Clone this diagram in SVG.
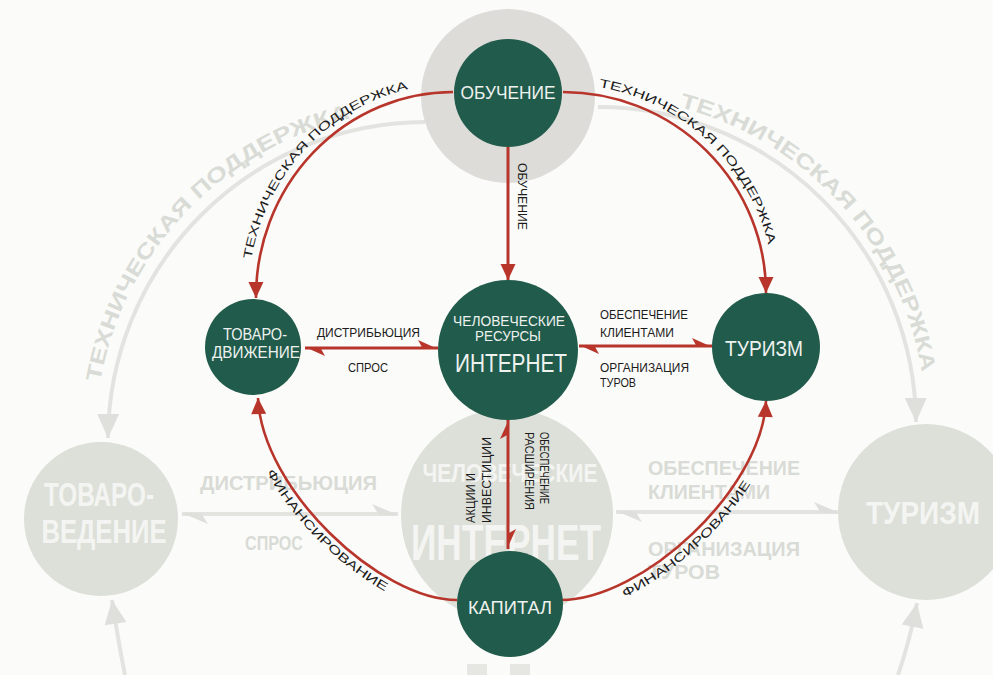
<svg xmlns="http://www.w3.org/2000/svg" width="993" height="675" viewBox="0 0 993 675">
<style>
.node{fill:#215b4b}
.nt{fill:#eef2ef;font-family:"Liberation Sans Narrow","Liberation Sans",Arial,sans-serif;text-anchor:middle}
.lbl{fill:#1c1c1c;font-family:"Liberation Sans Narrow","Liberation Sans",Arial,sans-serif;font-size:12px}
.arc{fill:none;stroke:#b8352b;stroke-width:2.6}
.red{fill:none;stroke:#b8352b;stroke-width:3}
.g-line{fill:none;stroke:#e3e4e0;stroke-width:4}
.g-circ{fill:#dde0d9}
.g-txt{fill:#d9dbd6;font-family:"Liberation Sans Narrow","Liberation Sans",Arial,sans-serif;font-weight:bold}
.g-wt{fill:#f4f5f2;font-family:"Liberation Sans Narrow","Liberation Sans",Arial,sans-serif;font-weight:bold;text-anchor:middle}
</style>
<defs>
<marker id="arr" viewBox="-18 -9 20 18" markerWidth="20" markerHeight="18" refX="0" refY="0" orient="auto" markerUnits="userSpaceOnUse"><path d="M0,0 L-16,-7.5 L-16,7.5 Z" fill="#b8352b"/></marker>
<marker id="harp" viewBox="-22 -10 24 12" markerWidth="24" markerHeight="12" refX="0" refY="0" orient="auto-start-reverse" markerUnits="userSpaceOnUse"><path d="M0,1 L-20,-8 L-15,1 Z" fill="#b8352b"/></marker>
<marker id="garr" viewBox="-26 -13 28 26" markerWidth="28" markerHeight="26" refX="0" refY="0" orient="auto" markerUnits="userSpaceOnUse"><path d="M0,0 L-24,-11 L-24,11 Z" fill="#dfe0dc"/></marker>
<marker id="gharp" viewBox="-30 -13 32 16" markerWidth="32" markerHeight="16" refX="0" refY="0" orient="auto-start-reverse" markerUnits="userSpaceOnUse"><path d="M0,1 L-26,-10 L-19,1 Z" fill="#dfe0dc"/></marker>
<path id="ptl" d="M 248 297 A 205 213 0 0 1 453 84"/>
<path id="ptr" d="M 563 84 A 211 209 0 0 1 774 293"/>
<path id="pbl" d="M 244 398 C 248 498, 376 614, 457 614"/>
<path id="pbr" d="M 561 614 C 648 614, 776 496, 780 401"/>
<path id="gtl" d="M 95 440 A 330 330 0 0 1 425 110"/>
<path id="gtr" d="M 598 97 A 328 328 0 0 1 926 425"/>
</defs>
<rect width="993" height="675" fill="#fbfbf9"/>

<g id="background-ghost">
<path class="g-line" d="M 425 122 A 318 318 0 0 0 108 438" marker-end="url(#garr)"/>
<path class="g-line" d="M 598 107 A 318 318 0 0 1 916 422" marker-end="url(#garr)"/>
<path class="g-line" d="M 125 675 Q 118 640 112 600" marker-end="url(#garr)"/>
<path class="g-line" d="M 898 675 Q 910 640 917 603" marker-end="url(#garr)"/>
<path class="g-line" d="M 182 514 L 398 514" marker-start="url(#gharp)" marker-end="url(#gharp)"/>
<path class="g-line" d="M 616 512 L 840 512" marker-start="url(#gharp)" marker-end="url(#gharp)"/>
<text class="g-txt" font-size="21"><textPath href="#gtl" startOffset="58" textLength="385" lengthAdjust="spacingAndGlyphs">ТЕХНИЧЕСКАЯ ПОДДЕРЖКА</textPath></text>
<text class="g-txt" font-size="21"><textPath href="#gtr" startOffset="82" textLength="380" lengthAdjust="spacingAndGlyphs">ТЕХНИЧЕСКАЯ ПОДДЕРЖКА</textPath></text>
<circle cx="508" cy="96" r="87" fill="#dddcd8"/>
<circle class="g-circ" cx="101" cy="519" r="77"/>
<circle class="g-circ" cx="507" cy="515" r="106"/>
<circle class="g-circ" cx="926" cy="512" r="88"/>
<rect x="467" y="664" width="20" height="11" fill="#e6e7e3"/>
<rect x="510" y="664" width="20" height="11" fill="#e6e7e3"/>
<text class="g-wt" x="99" y="506" font-size="34" textLength="110" lengthAdjust="spacingAndGlyphs">ТОВАРО-</text>
<text class="g-wt" x="104" y="543" font-size="34" textLength="125" lengthAdjust="spacingAndGlyphs">ВЕДЕНИЕ</text>
<text class="g-wt" x="510" y="482" font-size="26" textLength="175" lengthAdjust="spacingAndGlyphs">ЧЕЛОВЕЧЕСКИЕ</text>
<text class="g-wt" x="506" y="560" font-size="50" textLength="190" lengthAdjust="spacingAndGlyphs">ИНТЕРНЕТ</text>
<text class="g-wt" x="923" y="524" font-size="32" textLength="114" lengthAdjust="spacingAndGlyphs">ТУРИЗМ</text>
<text class="g-txt" x="200" y="490" font-size="20" textLength="177" lengthAdjust="spacingAndGlyphs">ДИСТРИБЬЮЦИЯ</text>
<text class="g-txt" x="245" y="550" font-size="20" textLength="58" lengthAdjust="spacingAndGlyphs">СПРОС</text>
<text class="g-txt" x="648" y="475" font-size="20" textLength="152" lengthAdjust="spacingAndGlyphs">ОБЕСПЕЧЕНИЕ</text>
<text class="g-txt" x="648" y="499" font-size="20" textLength="122" lengthAdjust="spacingAndGlyphs">КЛИЕНТАМИ</text>
<text class="g-txt" x="648" y="556" font-size="20" textLength="152" lengthAdjust="spacingAndGlyphs">ОРГАНИЗАЦИЯ</text>
<text class="g-txt" x="648" y="579" font-size="20" textLength="72" lengthAdjust="spacingAndGlyphs">ТУРОВ</text>
</g>

<g id="connectors">
<path class="arc" d="M 453 92 A 197 205 0 0 0 256 298" marker-end="url(#arr)"/>
<path class="arc" d="M 563 92 A 203 201 0 0 1 766 293" marker-end="url(#arr)"/>
<path class="arc" d="M 457 600 C 380 600, 262 490, 258 398" marker-end="url(#arr)"/>
<path class="arc" d="M 561 600 C 642 600, 762 490, 766 401" marker-end="url(#arr)"/>
<path class="red" d="M 508 147 L 508 280" marker-end="url(#arr)"/>
<path class="red" d="M 305 348 L 438 348" marker-start="url(#harp)" marker-end="url(#harp)"/>
<path class="red" d="M 579 346 L 712 346" marker-start="url(#harp)" marker-end="url(#harp)"/>
<path class="red" d="M 508 419 L 508 549" marker-start="url(#harp)" marker-end="url(#harp)"/>
<text class="lbl" font-size="15"><textPath href="#ptl" startOffset="38" textLength="245" lengthAdjust="spacingAndGlyphs">ТЕХНИЧЕСКАЯ ПОДДЕРЖКА</textPath></text>
<text class="lbl" font-size="15"><textPath href="#ptr" startOffset="36" textLength="245" lengthAdjust="spacingAndGlyphs">ТЕХНИЧЕСКАЯ ПОДДЕРЖКА</textPath></text>
<text class="lbl" font-size="13"><textPath href="#pbl" startOffset="78" textLength="170" lengthAdjust="spacingAndGlyphs">ФИНАНСИРОВАНИЕ</textPath></text>
<text class="lbl" font-size="13"><textPath href="#pbr" startOffset="66" textLength="172" lengthAdjust="spacingAndGlyphs">ФИНАНСИРОВАНИЕ</textPath></text>
<text class="lbl" transform="translate(517.5,163) rotate(90)" textLength="67" lengthAdjust="spacingAndGlyphs">ОБУЧЕНИЕ</text>
<text class="lbl" x="317" y="337" textLength="103" lengthAdjust="spacingAndGlyphs">ДИСТРИБЬЮЦИЯ</text>
<text class="lbl" x="348" y="372" textLength="40" lengthAdjust="spacingAndGlyphs">СПРОС</text>
<text class="lbl" x="600" y="319" textLength="88" lengthAdjust="spacingAndGlyphs">ОБЕСПЕЧЕНИЕ</text>
<text class="lbl" x="600" y="337" textLength="74" lengthAdjust="spacingAndGlyphs">КЛИЕНТАМИ</text>
<text class="lbl" x="600" y="372" textLength="89" lengthAdjust="spacingAndGlyphs">ОРГАНИЗАЦИЯ</text>
<text class="lbl" x="600" y="387" textLength="36" lengthAdjust="spacingAndGlyphs">ТУРОВ</text>
<text class="lbl" transform="translate(475,523) rotate(-90)" textLength="50" lengthAdjust="spacingAndGlyphs">АКЦИИ И</text>
<text class="lbl" transform="translate(491,523) rotate(-90)" textLength="86" lengthAdjust="spacingAndGlyphs">ИНВЕСТИЦИИ</text>
<text class="lbl" transform="translate(540,432) rotate(90)" textLength="72" lengthAdjust="spacingAndGlyphs">ОБЕСПЕЧЕНИЕ</text>
<text class="lbl" transform="translate(525,432) rotate(90)" textLength="78" lengthAdjust="spacingAndGlyphs">РАСШИРЕНИЯ</text>
</g>

<g id="node-obuchenie">
<circle class="node" cx="508" cy="93" r="54"/>
<text class="nt" x="508" y="99" font-size="18" textLength="95" lengthAdjust="spacingAndGlyphs">ОБУЧЕНИЕ</text>
</g>
<g id="node-tovarodvizhenie">
<circle class="node" cx="253" cy="347" r="48"/>
<text class="nt" x="255" y="340" font-size="17" textLength="64" lengthAdjust="spacingAndGlyphs">ТОВАРО-</text>
<text class="nt" x="256" y="358" font-size="17" textLength="88" lengthAdjust="spacingAndGlyphs">ДВИЖЕНИЕ</text>
</g>
<g id="node-internet">
<circle class="node" cx="508" cy="350" r="70"/>
<text class="nt" x="509" y="326" font-size="15" textLength="112" lengthAdjust="spacingAndGlyphs">ЧЕЛОВЕЧЕСКИЕ</text>
<text class="nt" x="508" y="341" font-size="15" textLength="66" lengthAdjust="spacingAndGlyphs">РЕСУРСЫ</text>
<text class="nt" x="511" y="372" font-size="26" textLength="112" lengthAdjust="spacingAndGlyphs">ИНТЕРНЕТ</text>
</g>
<g id="node-turizm">
<circle class="node" cx="766" cy="347" r="54"/>
<text class="nt" x="764" y="356" font-size="22" textLength="78" lengthAdjust="spacingAndGlyphs">ТУРИЗМ</text>
</g>
<g id="node-kapital">
<circle class="node" cx="510" cy="604" r="53"/>
<text class="nt" x="510" y="614" font-size="19" textLength="84" lengthAdjust="spacingAndGlyphs">КАПИТАЛ</text>
</g>
</svg>
